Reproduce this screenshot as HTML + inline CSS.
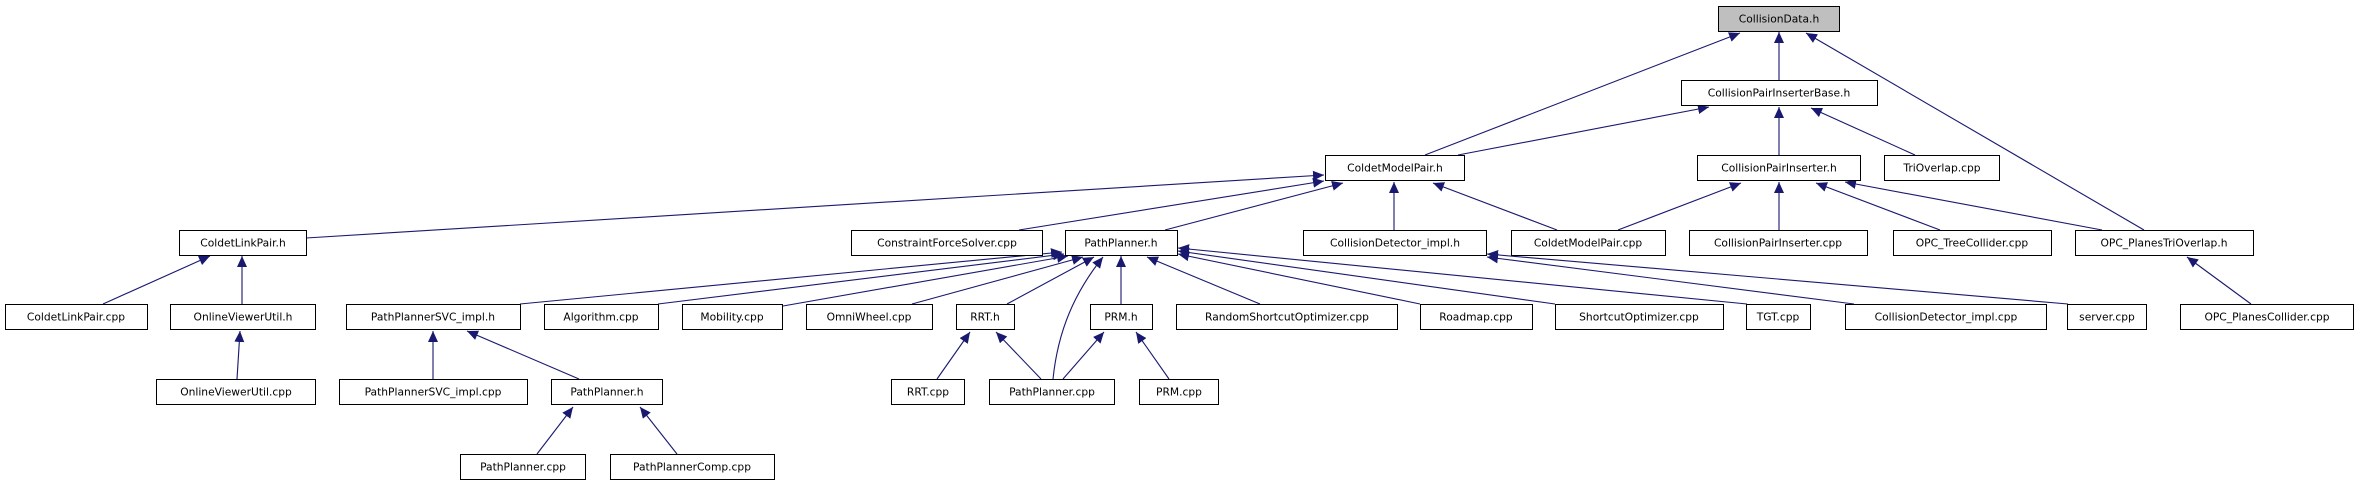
<!DOCTYPE html>
<html><head><meta charset="utf-8"><style>
html,body{margin:0;padding:0;background:#fff;}
svg{display:block}
text{font-family:"DejaVu Sans","Liberation Sans",sans-serif;font-size:10.7px;fill:#000;text-anchor:middle;dominant-baseline:central}
.b{fill:#fff;stroke:#000;stroke-width:1}
.e{fill:none;stroke:#191970;stroke-width:1.1;marker-end:url(#a)}
</style></head><body>
<svg width="2361" height="485" viewBox="0 0 2361 485" xmlns="http://www.w3.org/2000/svg">
<defs><marker id="a" markerUnits="userSpaceOnUse" markerWidth="12" markerHeight="10" refX="11" refY="5" orient="auto"><path d="M0,0 L11,5 L0,10 z" fill="#191970"/></marker></defs>
<g>
<path class="e" d="M1425,155 L1740,33"/>
<path class="e" d="M1779,80 L1779,32"/>
<path class="e" d="M2144,230 L1806,33"/>
<path class="e" d="M1458,155 L1709,107"/>
<path class="e" d="M1779,155 L1779,107"/>
<path class="e" d="M1915,155 L1811,108"/>
<path class="e" d="M306,238 L1324,175"/>
<path class="e" d="M1019,230 L1324,181"/>
<path class="e" d="M1165,230 L1343,183"/>
<path class="e" d="M1394,230 L1394,182"/>
<path class="e" d="M1557,230 L1433,183"/>
<path class="e" d="M1618,230 L1741,183"/>
<path class="e" d="M1779,230 L1779,182"/>
<path class="e" d="M1940,230 L1816,183"/>
<path class="e" d="M2102,230 L1845,182"/>
<path class="e" d="M2251,304 L2187,257"/>
<path class="e" d="M103,304 L210,256"/>
<path class="e" d="M242,304 L242,256"/>
<path class="e" d="M237,379 L240,331"/>
<path class="e" d="M520,304 L1062,252"/>
<path class="e" d="M658,304 L1064,254"/>
<path class="e" d="M783,306 L1068,256"/>
<path class="e" d="M912,304 L1083,257"/>
<path class="e" d="M1007,304 L1094,257"/>
<path class="e" d="M1053,379 C1058,330 1075,292 1103,257"/>
<path class="e" d="M1121,304 L1121,256"/>
<path class="e" d="M1260,304 L1147,257"/>
<path class="e" d="M1420,304 L1178,254"/>
<path class="e" d="M1555,304 L1178,251"/>
<path class="e" d="M1747,304 L1178,248"/>
<path class="e" d="M1854,304 L1487,257"/>
<path class="e" d="M2068,304 L1487,254"/>
<path class="e" d="M433,379 L433,331"/>
<path class="e" d="M579,379 L467,331"/>
<path class="e" d="M937,379 L970,332"/>
<path class="e" d="M1041,379 L996,332"/>
<path class="e" d="M1063,379 L1104,332"/>
<path class="e" d="M1169,379 L1136,332"/>
<path class="e" d="M537,454 L573,407"/>
<path class="e" d="M677,454 L640,407"/>
</g>
<g>
<rect x="1718.5" y="6.5" width="121" height="25" fill="#bfbfbf" stroke="#000"/><text x="1779" y="19">CollisionData.h</text>
<rect class="b" x="1681.5" y="80.5" width="196" height="25"/><text x="1779" y="93">CollisionPairInserterBase.h</text>
<rect class="b" x="1325.5" y="155.5" width="139" height="25"/><text x="1395" y="168">ColdetModelPair.h</text>
<rect class="b" x="1697.5" y="155.5" width="163" height="25"/><text x="1779" y="168">CollisionPairInserter.h</text>
<rect class="b" x="1884.5" y="155.5" width="115" height="25"/><text x="1942" y="168">TriOverlap.cpp</text>
<rect class="b" x="179.5" y="230.5" width="127" height="25"/><text x="243" y="243">ColdetLinkPair.h</text>
<rect class="b" x="851.5" y="230.5" width="191" height="25"/><text x="947" y="243">ConstraintForceSolver.cpp</text>
<rect class="b" x="1065.5" y="230.5" width="112" height="25"/><text x="1121" y="243">PathPlanner.h</text>
<rect class="b" x="1303.5" y="230.5" width="183" height="25"/><text x="1395" y="243">CollisionDetector_impl.h</text>
<rect class="b" x="1511.5" y="230.5" width="154" height="25"/><text x="1588" y="243">ColdetModelPair.cpp</text>
<rect class="b" x="1689.5" y="230.5" width="178" height="25"/><text x="1778" y="243">CollisionPairInserter.cpp</text>
<rect class="b" x="1893.5" y="230.5" width="158" height="25"/><text x="1972" y="243">OPC_TreeCollider.cpp</text>
<rect class="b" x="2075.5" y="230.5" width="178" height="25"/><text x="2164" y="243">OPC_PlanesTriOverlap.h</text>
<rect class="b" x="5.5" y="304.5" width="142" height="25"/><text x="76" y="317">ColdetLinkPair.cpp</text>
<rect class="b" x="170.5" y="304.5" width="145" height="25"/><text x="243" y="317">OnlineViewerUtil.h</text>
<rect class="b" x="346.5" y="304.5" width="174" height="25"/><text x="433" y="317">PathPlannerSVC_impl.h</text>
<rect class="b" x="544.5" y="304.5" width="114" height="25"/><text x="601" y="317">Algorithm.cpp</text>
<rect class="b" x="682.5" y="304.5" width="100" height="25"/><text x="732" y="317">Mobility.cpp</text>
<rect class="b" x="806.5" y="304.5" width="126" height="25"/><text x="869" y="317">OmniWheel.cpp</text>
<rect class="b" x="956.5" y="304.5" width="58" height="25"/><text x="985" y="317">RRT.h</text>
<rect class="b" x="1090.5" y="304.5" width="62" height="25"/><text x="1121" y="317">PRM.h</text>
<rect class="b" x="1176.5" y="304.5" width="221" height="25"/><text x="1287" y="317">RandomShortcutOptimizer.cpp</text>
<rect class="b" x="1420.5" y="304.5" width="112" height="25"/><text x="1476" y="317">Roadmap.cpp</text>
<rect class="b" x="1555.5" y="304.5" width="168" height="25"/><text x="1639" y="317">ShortcutOptimizer.cpp</text>
<rect class="b" x="1746.5" y="304.5" width="64" height="25"/><text x="1778" y="317">TGT.cpp</text>
<rect class="b" x="1845.5" y="304.5" width="201" height="25"/><text x="1946" y="317">CollisionDetector_impl.cpp</text>
<rect class="b" x="2067.5" y="304.5" width="79" height="25"/><text x="2107" y="317">server.cpp</text>
<rect class="b" x="2180.5" y="304.5" width="173" height="25"/><text x="2267" y="317">OPC_PlanesCollider.cpp</text>
<rect class="b" x="156.5" y="379.5" width="159" height="25"/><text x="236" y="392">OnlineViewerUtil.cpp</text>
<rect class="b" x="339.5" y="379.5" width="188" height="25"/><text x="433" y="392">PathPlannerSVC_impl.cpp</text>
<rect class="b" x="551.5" y="379.5" width="111" height="25"/><text x="607" y="392">PathPlanner.h</text>
<rect class="b" x="891.5" y="379.5" width="73" height="25"/><text x="928" y="392">RRT.cpp</text>
<rect class="b" x="989.5" y="379.5" width="125" height="25"/><text x="1052" y="392">PathPlanner.cpp</text>
<rect class="b" x="1139.5" y="379.5" width="79" height="25"/><text x="1179" y="392">PRM.cpp</text>
<rect class="b" x="460.5" y="454.5" width="125" height="25"/><text x="523" y="467">PathPlanner.cpp</text>
<rect class="b" x="610.5" y="454.5" width="164" height="25"/><text x="692" y="467">PathPlannerComp.cpp</text>
</g>
</svg>
</body></html>
